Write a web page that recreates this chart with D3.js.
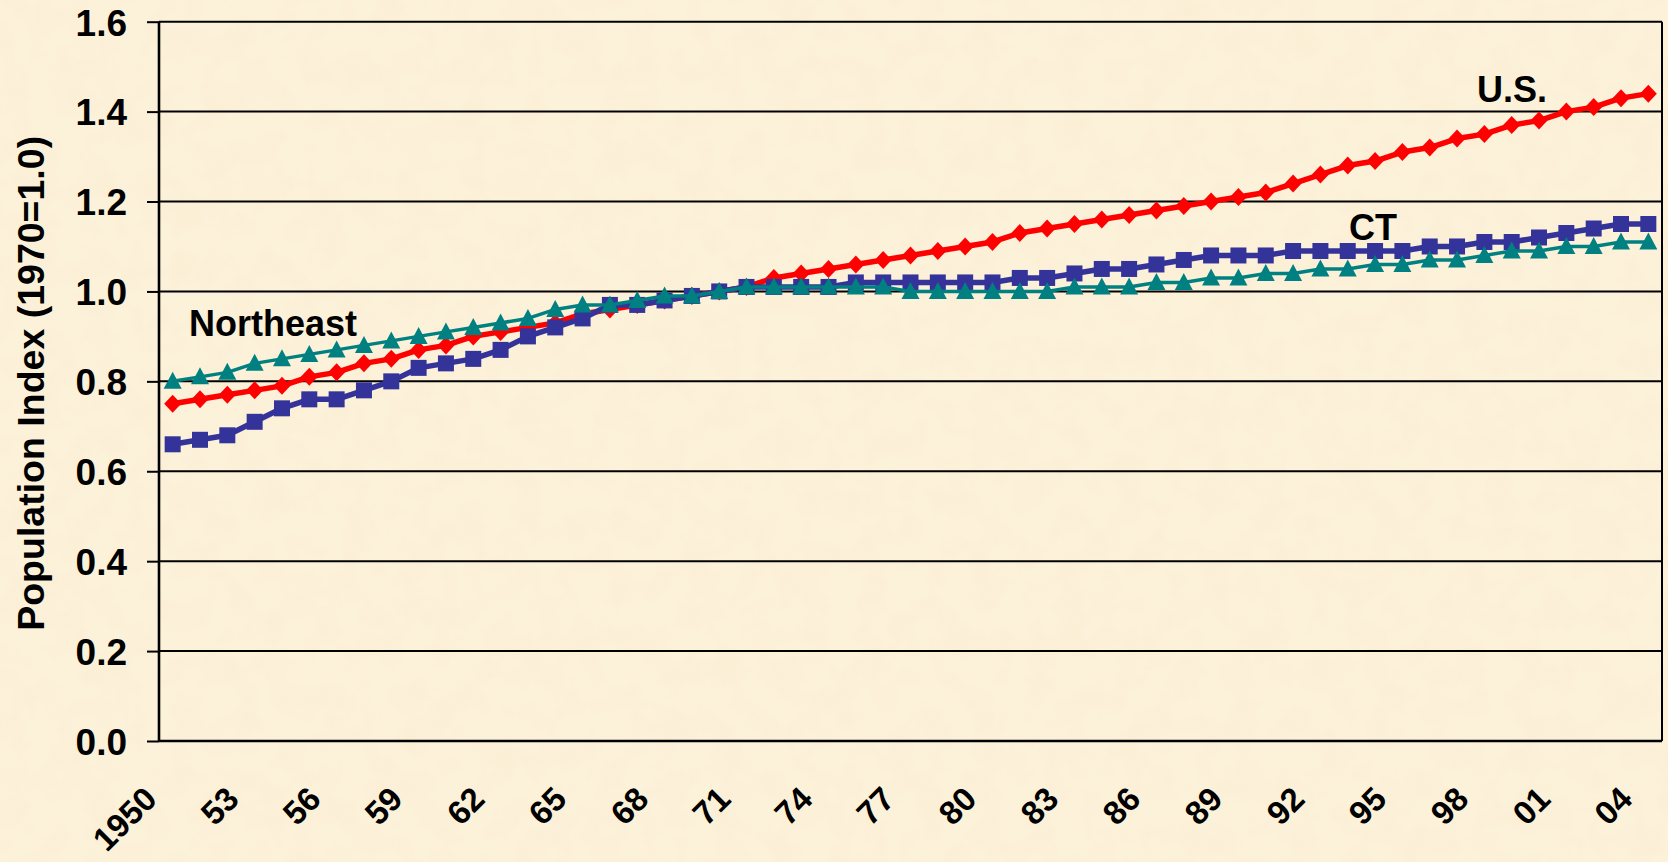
<!DOCTYPE html>
<html>
<head>
<meta charset="utf-8">
<script src="https://cdn.jsdelivr.net/npm/d3@7"></script>
<style>
  html, body { margin: 0; padding: 0; background: #FCF1D8; }
  svg { display: block; }
  text { font-family: "Liberation Sans", Arial, sans-serif; font-weight: bold; fill: #000; }
</style>
</head>
<body>
<svg id="chart" width="1668" height="862"></svg>
<script>
const years = d3.range(1950, 2005);
const tickYears = [1950,1953,1956,1959,1962,1965,1968,1971,1974,1977,1980,1983,1986,1989,1992,1995,1998,2001,2004];
const tickLabels = ["1950","53","56","59","62","65","68","71","74","77","80","83","86","89","92","95","98","01","04"];
const yTicks = [0,0.2,0.4,0.6,0.8,1.0,1.2,1.4,1.6];

const usValues = [0.75,0.76,0.77,0.78,0.79,0.81,0.82,0.84,0.85,0.87,0.88,0.90,0.91,0.92,0.93,0.95,0.96,0.97,0.98,0.99,
  1.00,1.01,1.03,1.04,1.05,1.06,1.07,1.08,1.09,1.10,1.11,1.13,1.14,1.15,1.16,1.17,1.18,1.19,1.20,1.21,
  1.22,1.24,1.26,1.28,1.29,1.31,1.32,1.34,1.35,1.37,1.38,1.40,1.41,1.43,1.44];
const ctValues = [0.66,0.67,0.68,0.71,0.74,0.76,0.76,0.78,0.80,0.83,0.84,0.85,0.87,0.90,0.92,0.94,0.97,0.97,0.98,0.99,
  1.00,1.01,1.01,1.01,1.01,1.02,1.02,1.02,1.02,1.02,1.02,1.03,1.03,1.04,1.05,1.05,1.06,1.07,1.08,1.08,
  1.08,1.09,1.09,1.09,1.09,1.09,1.10,1.10,1.11,1.11,1.12,1.13,1.14,1.15,1.15];
const neValues = [0.80,0.81,0.82,0.84,0.85,0.86,0.87,0.88,0.89,0.90,0.91,0.92,0.93,0.94,0.96,0.97,0.97,0.98,0.99,0.99,
  1.00,1.01,1.01,1.01,1.01,1.01,1.01,1.00,1.00,1.00,1.00,1.00,1.00,1.01,1.01,1.01,1.02,1.02,1.03,1.03,
  1.04,1.04,1.05,1.05,1.06,1.06,1.07,1.07,1.08,1.09,1.09,1.10,1.10,1.11,1.11];

const seriesNames = ["U.S.", "CT", "Northeast"];

const W = 1668, H = 862;
const m = { left: 159, right: 1662, top: 21.7, bottom: 741 };

const svg = d3.select("#chart");

// parchment background with a faint texture
const defs = svg.append("defs");
const f = defs.append("filter").attr("id", "paper").attr("x", 0).attr("y", 0).attr("width", "100%").attr("height", "100%");
f.append("feTurbulence").attr("type", "fractalNoise").attr("baseFrequency", "0.035").attr("numOctaves", 3).attr("seed", 7).attr("result", "n");
f.append("feColorMatrix").attr("in", "n").attr("type", "matrix")
  .attr("values", "0 0 0 0 0.85  0 0 0 0 0.74  0 0 0 0 0.45  0 0 0 0.9 -0.38");
svg.append("rect").attr("width", W).attr("height", H).attr("fill", "#FCF1D9");
svg.append("rect").attr("width", W).attr("height", H).attr("filter", "url(#paper)").attr("opacity", 0.22);

const x = d3.scaleBand().domain(years).range([m.left, m.right]).padding(0);
const cx = yr => x(yr) + x.bandwidth() / 2;
const y = d3.scaleLinear().domain([0, 1.6]).range([m.bottom, m.top]);

// gridlines
svg.append("g").selectAll("line").data(yTicks.filter(d => d > 0)).join("line")
  .attr("x1", m.left).attr("x2", m.right)
  .attr("y1", d => y(d)).attr("y2", d => y(d))
  .attr("stroke", "#000").attr("stroke-width", 2);

// right border
svg.append("line").attr("x1", m.right).attr("x2", m.right).attr("y1", m.top).attr("y2", m.bottom)
  .attr("stroke", "#000").attr("stroke-width", 2);

// y axis
const yAxis = d3.axisLeft(y).tickValues(yTicks).tickFormat(d3.format(".1f")).tickSize(12).tickPadding(20);
const gy = svg.append("g").attr("transform", `translate(${m.left},0)`).call(yAxis);
gy.select(".domain").remove();
gy.selectAll(".tick line").attr("stroke", "#000").attr("stroke-width", 2);
gy.selectAll(".tick text").style("font-size", "37px").attr("dy", "0.36em").attr("fill", "#000");

// axis lines
svg.append("line").attr("x1", m.left).attr("x2", m.left).attr("y1", m.top).attr("y2", m.bottom)
  .attr("stroke", "#000").attr("stroke-width", 2.6);
svg.append("line").attr("x1", m.left).attr("x2", m.right).attr("y1", m.bottom).attr("y2", m.bottom)
  .attr("stroke", "#000").attr("stroke-width", 2.6);

// x labels
svg.append("g").selectAll("text").data(tickYears).join("text")
  .attr("transform", (d) => `translate(${cx(d) - 14},801) rotate(-45)`)
  .attr("text-anchor", "end")
  .style("font-size", "33px")
  .text((d, i) => tickLabels[i]);

// y title
svg.append("text")
  .attr("transform", `translate(44,${(m.top + m.bottom) / 2 + 2}) rotate(-90)`)
  .attr("text-anchor", "middle")
  .style("font-size", "37.5px")
  .text("Population Index (1970=1.0)");

// series
const diamond = "M0,-9L8.5,0L0,9L-8.5,0Z";
const square = "M-8,-8H8V8H-8Z";
const triangle = "M0,-9.5L9,7.5L-9,7.5Z";

const series = [
  { name: seriesNames[0], values: usValues, color: "#FF0000", width: 5.5, marker: diamond },
  { name: seriesNames[1], values: ctValues, color: "#333399", width: 5.5, marker: square },
  { name: seriesNames[2], values: neValues, color: "#008080", width: 3.5, marker: triangle }
];

const line = d3.line().x((d, i) => cx(years[i])).y(d => y(d));

series.forEach(s => {
  const g = svg.append("g");
  g.append("path").datum(s.values).attr("d", line)
    .attr("fill", "none").attr("stroke", s.color).attr("stroke-width", s.width)
    .attr("stroke-linejoin", "round");
  g.selectAll("path.m").data(s.values).join("path").attr("class", "m")
    .attr("d", s.marker)
    .attr("transform", (d, i) => `translate(${cx(years[i])},${y(d)})`)
    .attr("fill", s.color);
});

// series labels
svg.append("text").attr("x", 1477).attr("y", 102).style("font-size", "36px").text(seriesNames[0]);
svg.append("text").attr("x", 1349).attr("y", 240).style("font-size", "36px").text(seriesNames[1]);
svg.append("text").attr("x", 189).attr("y", 336).style("font-size", "36px").text(seriesNames[2]);
</script>
</body>
</html>
